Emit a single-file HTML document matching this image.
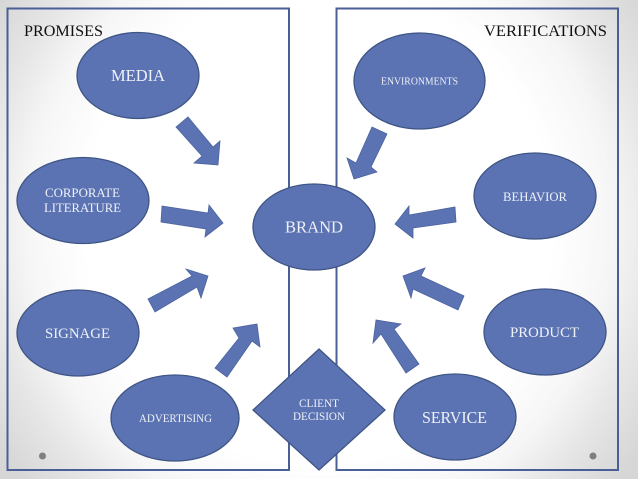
<!DOCTYPE html>
<html>
<head>
<meta charset="utf-8">
<style>
html,body{margin:0;padding:0;width:638px;height:479px;overflow:hidden;background:#fff}
body{background:radial-gradient(390px 400px at 319px 225px,#fff 0,#fff 60%,#f6f6f6 75%,#e6e6e6 86%,#d6d6d6 100%)}
svg{display:block}
text{font-family:"Liberation Serif",serif;fill:#eef1f8;text-anchor:middle}
.k{fill:#111;text-anchor:start}
.s{fill:#5b73b3;stroke:#3f5585;stroke-width:1.3}
.a{fill:#5b73b3;stroke:#4c639f;stroke-width:.8}
</style>
</head>
<body>
<svg width="638" height="479" viewBox="0 0 638 479" xmlns="http://www.w3.org/2000/svg">
<rect x="7.5" y="8.5" width="281.5" height="461.5" fill="none" stroke="#4a5f95" stroke-width="2"/>
<rect x="336.5" y="8.5" width="281.5" height="461.5" fill="none" stroke="#4a5f95" stroke-width="2"/>
<circle cx="42.5" cy="456" r="3.5" fill="#7f7f7f"/>
<circle cx="593" cy="456" r="3.5" fill="#7f7f7f"/>

<ellipse class="s" cx="138" cy="75.5" rx="61" ry="43"/>
<ellipse class="s" cx="83" cy="200.5" rx="66" ry="43"/>
<ellipse class="s" cx="314" cy="227" rx="61" ry="43"/>
<ellipse class="s" cx="78" cy="333" rx="61" ry="43"/>
<ellipse class="s" cx="175" cy="418" rx="64" ry="43"/>
<ellipse class="s" cx="419.5" cy="81" rx="65.5" ry="48"/>
<ellipse class="s" cx="535" cy="196" rx="61" ry="43"/>
<ellipse class="s" cx="545" cy="332" rx="61" ry="43"/>
<ellipse class="s" cx="455" cy="417" rx="61" ry="43"/>
<polygon class="s" points="319,349 385,410 319,470 253,410"/>

<polygon class="a" points="176,127 188,117 213,147 220,141 218,165 194,163 202,156"/>
<polygon class="a" points="162,206 208,213 209,205 223,223 205,237 206,229 161,222"/>
<polygon class="a" points="148,299 192,276 186,269 208,276 201,298 197,287 155,312"/>
<polygon class="a" points="215,368 239,338 233,328 257,324 260,347 252,341 227,377"/>
<polygon class="a" points="372,127 387,134 371,167 377,172 354,179 347,158 356,163"/>
<polygon class="a" points="455,207 456,222 413,228 413,238 395,224 409,206 409,215"/>
<polygon class="a" points="464,296 458,310 413,289 411,298 403,276 425,268 421,276"/>
<polygon class="a" points="419,364 406,373 381,334 373,343 376,320 401,324 394,329"/>

<text class="k" x="24" y="36" font-size="16" textLength="79" lengthAdjust="spacingAndGlyphs">PROMISES</text>
<text class="k" x="484" y="36" font-size="16" textLength="123" lengthAdjust="spacingAndGlyphs">VERIFICATIONS</text>
<text x="138" y="81" font-size="16.5" textLength="54" lengthAdjust="spacingAndGlyphs">MEDIA</text>
<text x="82.5" y="197" font-size="12.6" textLength="75" lengthAdjust="spacingAndGlyphs">CORPORATE</text>
<text x="82.5" y="212" font-size="12.6" textLength="77" lengthAdjust="spacingAndGlyphs">LITERATURE</text>
<text x="314" y="232.5" font-size="16.5" textLength="58" lengthAdjust="spacingAndGlyphs">BRAND</text>
<text x="77.5" y="338" font-size="15" textLength="65" lengthAdjust="spacingAndGlyphs">SIGNAGE</text>
<text x="175.5" y="422" font-size="11.5" textLength="73" lengthAdjust="spacingAndGlyphs">ADVERTISING</text>
<text x="419.5" y="84.5" font-size="10" textLength="77" lengthAdjust="spacingAndGlyphs">ENVIRONMENTS</text>
<text x="535" y="201" font-size="12.5" textLength="64" lengthAdjust="spacingAndGlyphs">BEHAVIOR</text>
<text x="544.5" y="337" font-size="15" textLength="69" lengthAdjust="spacingAndGlyphs">PRODUCT</text>
<text x="454.5" y="423" font-size="17" textLength="65" lengthAdjust="spacingAndGlyphs">SERVICE</text>
<text x="319" y="407" font-size="11.5" textLength="40" lengthAdjust="spacingAndGlyphs">CLIENT</text>
<text x="319" y="420" font-size="11.5" textLength="52" lengthAdjust="spacingAndGlyphs">DECISION</text>
</svg>
</body>
</html>
